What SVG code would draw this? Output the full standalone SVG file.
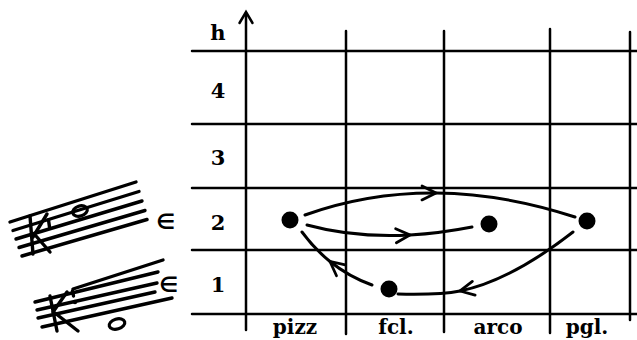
<svg xmlns="http://www.w3.org/2000/svg" width="637" height="340" viewBox="0 0 637 340">
<style>
.grid{stroke:#000;stroke-width:2.5;fill:none;stroke-linecap:round}
.staff{stroke:#000;stroke-width:3.4;fill:none;stroke-linecap:round}
.conn{stroke:#000;stroke-width:3;fill:none;stroke-linecap:round}
.num{font-family:"DejaVu Serif","Liberation Serif",serif;font-weight:bold;font-size:21px;text-anchor:middle;fill:#000}
.lab{font-family:"DejaVu Serif","Liberation Serif",serif;font-weight:bold;font-size:20px;text-anchor:middle;fill:#000}
.elem{font-family:"DejaVu Sans","Liberation Sans",sans-serif;font-weight:bold;font-size:21px;text-anchor:middle;fill:#000}
.dot{fill:#000}
</style>
<defs>
<marker id="arr" markerUnits="userSpaceOnUse" markerWidth="30" markerHeight="30" refX="0" refY="0" orient="auto" overflow="visible" viewBox="-15 -15 30 30">
<path d="M-14,-7 L0,0 L-14,7" fill="none" stroke="#000" stroke-width="2.8" stroke-linecap="round" stroke-linejoin="miter"/>
</marker>
</defs>
<rect width="637" height="340" fill="#fff"/>
<g id="grid">
<line class="grid" x1="192" y1="51" x2="637" y2="51"/>
<line class="grid" x1="192" y1="124" x2="637" y2="124"/>
<line class="grid" x1="192" y1="188" x2="637" y2="188"/>
<line class="grid" x1="192" y1="250" x2="637" y2="250"/>
<line class="grid" x1="192" y1="314" x2="637" y2="314"/>
<line class="grid" x1="346" y1="31" x2="346" y2="334"/>
<line class="grid" x1="444" y1="31" x2="444" y2="332"/>
<line class="grid" x1="550" y1="29" x2="550" y2="333"/>
<line class="grid" x1="630" y1="32" x2="630" y2="320"/>
</g>
<g id="axis">
<line class="grid" x1="246" y1="13" x2="246" y2="330"/>
<path class="grid" d="M239.5,23 L246,12 L252.5,23"/>
<text class="num" x="218" y="40">h</text>
</g>
<g id="levels">
<text class="num" x="218" y="98">4</text>
<text class="num" x="218" y="165">3</text>
<text class="num" x="218" y="230">2</text>
<text class="num" x="218" y="292">1</text>
</g>
<g id="categories">
<text class="lab" x="295" y="334">pizz</text>
<text class="lab" x="396" y="334">fcl.</text>
<text class="lab" x="498" y="334">arco</text>
<text class="lab" x="587" y="334">pgl.</text>
</g>
<g id="staff1">
<line class="staff" x1="10" y1="222" x2="136" y2="182"/>
<line class="staff" x1="13" y1="230.5" x2="139" y2="191.5"/>
<line class="staff" x1="16" y1="239" x2="142" y2="201"/>
<line class="staff" x1="19" y1="247.5" x2="145" y2="210.5"/>
<line class="staff" x1="22" y1="256" x2="147" y2="219.5"/>
<line class="staff" x1="30" y1="216" x2="33" y2="254" stroke-width="4"/>
<line class="staff" x1="33" y1="237" x2="47" y2="214"/>
<line class="staff" x1="36" y1="236" x2="50" y2="252"/>
<line class="staff" x1="48.5" y1="220" x2="49.5" y2="227" stroke-width="2.6"/>
<ellipse cx="80" cy="211" rx="7.5" ry="5" transform="rotate(-17 80 211)" fill="none" stroke="#000" stroke-width="3.2"/>
<text class="elem" x="166" y="229">∈</text>
</g>
<g id="staff2">
<line class="staff" x1="73" y1="289" x2="163" y2="260"/>
<line class="staff" x1="35" y1="302" x2="158" y2="272"/>
<line class="staff" x1="37" y1="310" x2="157" y2="283"/>
<line class="staff" x1="38" y1="318" x2="155" y2="292"/>
<line class="staff" x1="42" y1="327" x2="172" y2="298"/>
<line class="staff" x1="50" y1="296" x2="57" y2="331" stroke-width="4"/>
<line class="staff" x1="53" y1="312" x2="67" y2="292"/>
<line class="staff" x1="55" y1="313" x2="78" y2="331"/>
<circle cx="75" cy="302" r="2.2" fill="#000"/>
<line class="staff" x1="72.5" y1="291" x2="73.5" y2="296" stroke-width="2.6"/>
<ellipse cx="117" cy="324" rx="8" ry="5" transform="rotate(-17 117 324)" fill="none" stroke="#000" stroke-width="3.2"/>
<text class="elem" x="169" y="292">∈</text>
</g>
<g id="connectors">
<path class="conn" marker-mid="url(#arr)" d="M305,215 Q367.5,192.5 436,193 Q502.5,193.5 575,217"/>
<path class="conn" marker-mid="url(#arr)" d="M307,225 Q354.5,238 410,235 Q439.8,233.3 472,227"/>
<path class="conn" marker-mid="url(#arr)" d="M573,232 Q510,281 460,291 Q440,295 398,294"/>
<path class="conn" marker-mid="url(#arr)" d="M372,285 Q348.9,276.75 330,261.5 Q314.6,249.1 302,232"/>
</g>
<g id="node-pizz"><circle class="dot" cx="290" cy="220" r="8.5"/></g>
<g id="node-arco"><circle class="dot" cx="489" cy="224" r="8.5"/></g>
<g id="node-pgl"><circle class="dot" cx="587" cy="221" r="8.5"/></g>
<g id="node-fcl"><circle class="dot" cx="389" cy="289" r="8.5"/></g>
</svg>
